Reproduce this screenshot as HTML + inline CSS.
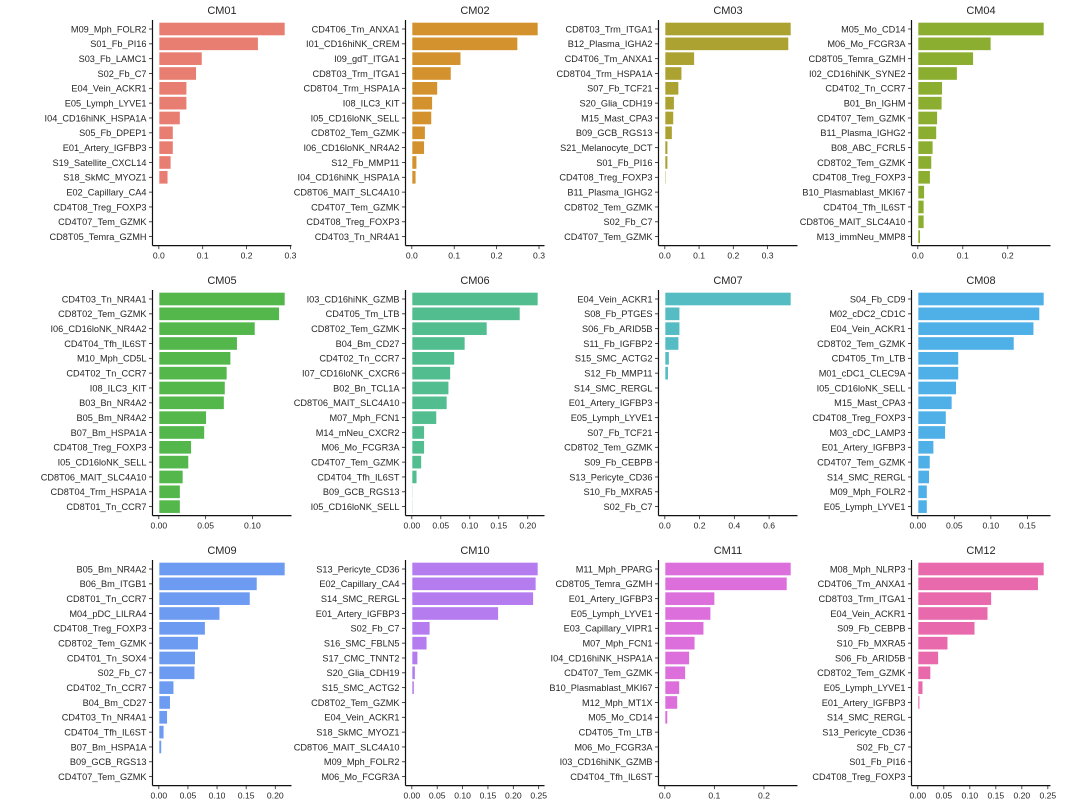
<!DOCTYPE html>
<html><head><meta charset="utf-8"><style>
html,body{margin:0;padding:0;background:#fff;}
svg{display:block;font-family:"Liberation Sans","DejaVu Sans",sans-serif;}
</style></head><body>
<svg id="chart" width="1080" height="805" viewBox="0 0 1080 805"></svg>
<script>
const panelTitles = ["CM01","CM02","CM03","CM04","CM05","CM06","CM07","CM08","CM09","CM10","CM11","CM12"];
const categories = [
 ["M09_Mph_FOLR2","S01_Fb_PI16","S03_Fb_LAMC1","S02_Fb_C7","E04_Vein_ACKR1","E05_Lymph_LYVE1","I04_CD16hiNK_HSPA1A","S05_Fb_DPEP1","E01_Artery_IGFBP3","S19_Satellite_CXCL14","S18_SkMC_MYOZ1","E02_Capillary_CA4","CD4T08_Treg_FOXP3","CD4T07_Tem_GZMK","CD8T05_Temra_GZMH"],
 ["CD4T06_Tm_ANXA1","I01_CD16hiNK_CREM","I09_gdT_ITGA1","CD8T03_Trm_ITGA1","CD8T04_Trm_HSPA1A","I08_ILC3_KIT","I05_CD16loNK_SELL","CD8T02_Tem_GZMK","I06_CD16loNK_NR4A2","S12_Fb_MMP11","I04_CD16hiNK_HSPA1A","CD8T06_MAIT_SLC4A10","CD4T07_Tem_GZMK","CD4T08_Treg_FOXP3","CD4T03_Tn_NR4A1"],
 ["CD8T03_Trm_ITGA1","B12_Plasma_IGHA2","CD4T06_Tm_ANXA1","CD8T04_Trm_HSPA1A","S07_Fb_TCF21","S20_Glia_CDH19","M15_Mast_CPA3","B09_GCB_RGS13","S21_Melanocyte_DCT","S01_Fb_PI16","CD4T08_Treg_FOXP3","B11_Plasma_IGHG2","CD8T02_Tem_GZMK","S02_Fb_C7","CD4T07_Tem_GZMK"],
 ["M05_Mo_CD14","M06_Mo_FCGR3A","CD8T05_Temra_GZMH","I02_CD16hiNK_SYNE2","CD4T02_Tn_CCR7","B01_Bn_IGHM","CD4T07_Tem_GZMK","B11_Plasma_IGHG2","B08_ABC_FCRL5","CD8T02_Tem_GZMK","CD4T08_Treg_FOXP3","B10_Plasmablast_MKI67","CD4T04_Tfh_IL6ST","CD8T06_MAIT_SLC4A10","M13_immNeu_MMP8"],
 ["CD4T03_Tn_NR4A1","CD8T02_Tem_GZMK","I06_CD16loNK_NR4A2","CD4T04_Tfh_IL6ST","M10_Mph_CD5L","CD4T02_Tn_CCR7","I08_ILC3_KIT","B03_Bn_NR4A2","B05_Bm_NR4A2","B07_Bm_HSPA1A","CD4T08_Treg_FOXP3","I05_CD16loNK_SELL","CD8T06_MAIT_SLC4A10","CD8T04_Trm_HSPA1A","CD8T01_Tn_CCR7"],
 ["I03_CD16hiNK_GZMB","CD4T05_Tm_LTB","CD8T02_Tem_GZMK","B04_Bm_CD27","CD4T02_Tn_CCR7","I07_CD16loNK_CXCR6","B02_Bn_TCL1A","CD8T06_MAIT_SLC4A10","M07_Mph_FCN1","M14_mNeu_CXCR2","M06_Mo_FCGR3A","CD4T07_Tem_GZMK","CD4T04_Tfh_IL6ST","B09_GCB_RGS13","I05_CD16loNK_SELL"],
 ["E04_Vein_ACKR1","S08_Fb_PTGES","S06_Fb_ARID5B","S11_Fb_IGFBP2","S15_SMC_ACTG2","S12_Fb_MMP11","S14_SMC_RERGL","E01_Artery_IGFBP3","E05_Lymph_LYVE1","S07_Fb_TCF21","CD8T02_Tem_GZMK","S09_Fb_CEBPB","S13_Pericyte_CD36","S10_Fb_MXRA5","S02_Fb_C7"],
 ["S04_Fb_CD9","M02_cDC2_CD1C","E04_Vein_ACKR1","CD8T02_Tem_GZMK","CD4T05_Tm_LTB","M01_cDC1_CLEC9A","I05_CD16loNK_SELL","M15_Mast_CPA3","CD4T08_Treg_FOXP3","M03_cDC_LAMP3","E01_Artery_IGFBP3","CD4T07_Tem_GZMK","S14_SMC_RERGL","M09_Mph_FOLR2","E05_Lymph_LYVE1"],
 ["B05_Bm_NR4A2","B06_Bm_ITGB1","CD8T01_Tn_CCR7","M04_pDC_LILRA4","CD4T08_Treg_FOXP3","CD8T02_Tem_GZMK","CD4T01_Tn_SOX4","S02_Fb_C7","CD4T02_Tn_CCR7","B04_Bm_CD27","CD4T03_Tn_NR4A1","CD4T04_Tfh_IL6ST","B07_Bm_HSPA1A","B09_GCB_RGS13","CD4T07_Tem_GZMK"],
 ["S13_Pericyte_CD36","E02_Capillary_CA4","S14_SMC_RERGL","E01_Artery_IGFBP3","S02_Fb_C7","S16_SMC_FBLN5","S17_CMC_TNNT2","S20_Glia_CDH19","S15_SMC_ACTG2","CD8T02_Tem_GZMK","E04_Vein_ACKR1","S18_SkMC_MYOZ1","CD8T06_MAIT_SLC4A10","M09_Mph_FOLR2","M06_Mo_FCGR3A"],
 ["M11_Mph_PPARG","CD8T05_Temra_GZMH","E01_Artery_IGFBP3","E05_Lymph_LYVE1","E03_Capillary_VIPR1","M07_Mph_FCN1","I04_CD16hiNK_HSPA1A","CD4T07_Tem_GZMK","B10_Plasmablast_MKI67","M12_Mph_MT1X","M05_Mo_CD14","CD4T05_Tm_LTB","M06_Mo_FCGR3A","I03_CD16hiNK_GZMB","CD4T04_Tfh_IL6ST"],
 ["M08_Mph_NLRP3","CD4T06_Tm_ANXA1","CD8T03_Trm_ITGA1","E04_Vein_ACKR1","S09_Fb_CEBPB","S10_Fb_MXRA5","S06_Fb_ARID5B","CD8T02_Tem_GZMK","E05_Lymph_LYVE1","E01_Artery_IGFBP3","S14_SMC_RERGL","S13_Pericyte_CD36","S02_Fb_C7","S01_Fb_PI16","CD4T08_Treg_FOXP3"]
];
const values = [
 [0.288,0.227,0.099,0.086,0.064,0.064,0.049,0.033,0.033,0.028,0.021,0,0,0,0],
 [0.298,0.250,0.116,0.093,0.061,0.049,0.047,0.032,0.030,0.012,0.010,0.002,0,0,0],
 [0.369,0.362,0.087,0.050,0.041,0.028,0.026,0.022,0.009,0.009,0.004,0.002,0,0,0],
 [0.281,0.163,0.124,0.088,0.055,0.054,0.044,0.042,0.034,0.031,0.028,0.015,0.014,0.014,0.006],
 [0.135,0.129,0.103,0.084,0.077,0.073,0.071,0.070,0.051,0.049,0.035,0.032,0.026,0.023,0.023],
 [0.218,0.187,0.130,0.092,0.074,0.067,0.064,0.061,0.043,0.022,0.022,0.017,0.009,0.002,0.002],
 [0.727,0.087,0.087,0.081,0.026,0.021,0,0,0,0,0,0,0,0,0],
 [0.173,0.167,0.159,0.132,0.056,0.056,0.053,0.047,0.039,0.038,0.022,0.017,0.016,0.013,0.013],
 [0.217,0.169,0.157,0.105,0.080,0.068,0.063,0.062,0.026,0.020,0.015,0.009,0.005,0,0],
 [0.249,0.245,0.240,0.171,0.036,0.030,0.012,0.007,0.005,0,0,0,0,0,0],
 [0.255,0.247,0.101,0.093,0.079,0.061,0.050,0.042,0.030,0.026,0.006,0,0,0,0],
 [0.243,0.232,0.142,0.135,0.110,0.058,0.040,0.025,0.010,0.004,0,0,0,0,0]
];
const tickValues = [
 [0,0.1,0.2,0.3],[0,0.1,0.2,0.3],[0,0.1,0.2,0.3],[0,0.1,0.2],
 [0,0.05,0.10],[0,0.05,0.10,0.15,0.20],[0,0.2,0.4,0.6],[0,0.05,0.10,0.15],
 [0,0.05,0.10,0.15,0.20],[0,0.05,0.10,0.15,0.20,0.25],[0,0.1,0.2],[0,0.05,0.10,0.15,0.20,0.25]
];
const tickLabels = [
 ["0.0","0.1","0.2","0.3"],["0.0","0.1","0.2","0.3"],["0.0","0.1","0.2","0.3"],["0.0","0.1","0.2"],
 ["0.00","0.05","0.10"],["0.00","0.05","0.10","0.15","0.20"],["0.0","0.2","0.4","0.6"],["0.00","0.05","0.10","0.15"],
 ["0.00","0.05","0.10","0.15","0.20"],["0.00","0.05","0.10","0.15","0.20","0.25"],["0.0","0.1","0.2"],["0.00","0.05","0.10","0.15","0.20","0.25"]
];
const colors = ["#e87e72","#d4922f","#aba232","#8bad30","#53b74c","#52bd8f","#55bcc4","#4fb0e8","#6d9bf1","#b57cf0","#dd6fdd","#e96aac"];

const NS = "http://www.w3.org/2000/svg";
const svg = document.getElementById("chart");
function mk(tag, attrs, parent){
  const e = document.createElementNS(NS, tag);
  for (const k in attrs) e.setAttribute(k, attrs[k]);
  parent.appendChild(e);
  return e;
}
const colLeft = [152.5, 405.5, 658.5, 911.5];
const rowFirst = [29, 299, 569];
const step = 14.83;
const axW = 139;

for (let p = 0; p < 12; p++) {
  const col = p % 4, row = Math.floor(p / 4);
  const g = mk("g", {}, svg);
  
  
  const vals = values[p];
  const vmax = Math.max.apply(null, vals);
  const xmin = -0.05 * vmax, xmax = 1.05 * vmax;
  const left = colLeft[col];
  const xs = v => left + (v - xmin) / (xmax - xmin) * axW;
  const y0 = rowFirst[row];
  const ys = i => y0 + i * step;
  const top = y0 - 9, bottom = ys(14) + 9;

  const t = mk("text", {x: left + axW / 2, y: top - 6, "text-anchor": "middle", "font-size": "11", fill: "#262626"}, g);
  t.textContent = panelTitles[p];
  
  

  for (let i = 0; i < 15; i++) {
    const y = ys(i);
    const v = vals[i];
    if (v > 0) {
      const r = mk("rect", {x: xs(0), y: y - step * 0.46, width: Math.max(0.5, xs(v) - xs(0)), height: step * 0.92, fill: colors[p], stroke: "#ffffff", "stroke-width": "1"}, g);
      
      
    }
    mk("line", {x1: left - 3.5, x2: left, y1: y, y2: y, stroke: "#222", "stroke-width": "0.8"}, g);
    const lb = mk("text", {x: left - 6, y: y + 3.3, "text-anchor": "end", "font-size": "9.2", fill: "#262626"}, g);
    lb.textContent = categories[p][i];
    
    
  }
  const ya = mk("line", {x1: left, x2: left, y1: top, y2: bottom, stroke: "#111", "stroke-width": "1.2"}, g);
  
  
  const xa = mk("line", {x1: left, x2: left + axW, y1: bottom, y2: bottom, stroke: "#111", "stroke-width": "1.2"}, g);
  
  
  tickValues[p].forEach((tv, k) => {
    const x = xs(tv);
    mk("line", {x1: x, x2: x, y1: bottom, y2: bottom + 3.5, stroke: "#222", "stroke-width": "0.8"}, g);
    const tl = mk("text", {x: x, y: bottom + 13, "text-anchor": "middle", "font-size": "8.6", fill: "#262626"}, g);
    tl.textContent = tickLabels[p][k];
    
    
  });
}
</script>
</body></html>
